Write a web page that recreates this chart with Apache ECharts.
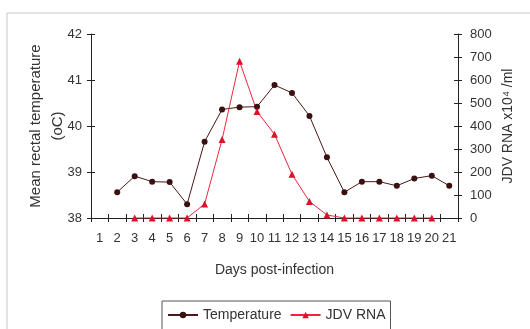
<!DOCTYPE html>
<html><head><meta charset="utf-8">
<script src="https://cdn.jsdelivr.net/npm/echarts@6/dist/echarts.min.js"></script>
<style>html,body{margin:0;padding:0;background:#fff}#c{width:530px;height:329px}</style>
</head><body><div id="c"></div>
<script>
var days = ['1','2','3','4','5','6','7','8','9','10','11','12','13','14','15','16','17','18','19','20','21'];
var temperature = [null,38.56,38.91,38.79,38.78,38.30,39.66,40.36,40.41,40.42,40.89,40.72,40.22,39.32,38.56,38.79,38.79,38.70,38.86,38.92,38.70];
var jdvRna = [null,null,0,0,0,0,61,341,681,463,364,190,72,13,0,0,0,0,0,0,null];
var tempTicks = [38,39,40,41,42];
var rnaTicks = [0,100,200,300,400,500,600,700,800];

var chart = echarts.init(document.getElementById('c'), null, {renderer:'canvas'});
var font = 'Liberation Sans, Arial, sans-serif';
var tick = {show:true,length:4,lineStyle:{color:'#222'}};
var tickIn = {show:true,inside:true,length:4,lineStyle:{color:'#222'}};
chart.setOption({
  animation:false,
  backgroundColor:'#fff',
  textStyle:{fontFamily:font},
  graphic:[{type:'rect',shape:{x:7,y:13,width:560,height:360},style:{fill:'none',stroke:'#c8c8c8',lineWidth:1},silent:true}],
  grid:{left:91,right:72,top:34,bottom:111},
  legend:{left:162,top:301,itemGap:8,itemWidth:30,itemHeight:8,padding:[7,5,10,5],
    borderColor:'#555',borderWidth:1,
    textStyle:{fontFamily:font,fontSize:14,color:'#333'},
    data:['Temperature','JDV RNA']},
  xAxis:[
    {type:'category',data:days,boundaryGap:true,
    name:'Days post-infection',nameLocation:'middle',nameGap:45,nameMoveOverlap:false,
    nameTextStyle:{fontFamily:font,fontSize:14,color:'#333'},
    axisLine:{lineStyle:{color:'#222',width:1}},
    axisTick:tick,
    axisLabel:{fontFamily:font,fontSize:13,color:'#333',margin:14,interval:0}},
    {type:'category',data:days,boundaryGap:true,position:'bottom',
    axisLine:{show:false},axisTick:tickIn,axisLabel:{show:false},splitLine:{show:false}}
  ],
  yAxis:[
    {type:'value',min:tempTicks[0],max:tempTicks[tempTicks.length-1],interval:1,position:'left',
     name:'Mean rectal temperature\n(oC)',nameLocation:'middle',nameRotate:90,nameGap:22,nameMoveOverlap:false,
     nameTextStyle:{fontFamily:font,fontSize:15,color:'#333',lineHeight:22},
     axisLine:{show:true,lineStyle:{color:'#222'}},
     axisTick:tick,
     splitLine:{show:false},
     axisLabel:{fontFamily:font,fontSize:13,color:'#333',margin:9}},
    {type:'value',min:rnaTicks[0],max:rnaTicks[rnaTicks.length-1],interval:100,position:'right',
     name:'JDV RNA x10\u2074 /ml',nameLocation:'middle',nameRotate:90,nameGap:43,nameMoveOverlap:false,
     nameTextStyle:{fontFamily:font,fontSize:14,color:'#333'},
     axisLine:{show:true,lineStyle:{color:'#222'}},
     axisTick:tick,
     splitLine:{show:false},
     axisLabel:{fontFamily:font,fontSize:13,color:'#333',margin:12}},
    {type:'value',min:tempTicks[0],max:tempTicks[tempTicks.length-1],interval:1,position:'left',
     axisLine:{show:false},axisTick:tickIn,axisLabel:{show:false},splitLine:{show:false}},
    {type:'value',min:rnaTicks[0],max:rnaTicks[rnaTicks.length-1],interval:100,position:'right',
     axisLine:{show:false},axisTick:tickIn,axisLabel:{show:false},splitLine:{show:false}}
  ],
  series:[
    {name:'Temperature',type:'line',yAxisIndex:0,data:temperature,connectNulls:false,
     symbol:'circle',symbolSize:6,
     lineStyle:{color:'#4a1818',width:1},itemStyle:{color:'#3a1010'}},
    {name:'JDV RNA',type:'line',yAxisIndex:1,data:jdvRna,
     symbol:'triangle',symbolSize:7,
     lineStyle:{color:'#e8283c',width:1},itemStyle:{color:'#e0102a'}}
  ]
});
</script></body></html>
